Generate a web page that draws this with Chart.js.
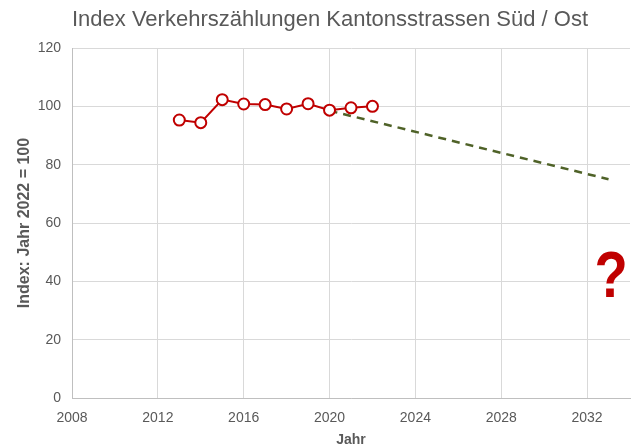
<!DOCTYPE html>
<html>
<head>
<meta charset="utf-8">
<script src="https://cdn.jsdelivr.net/npm/chart.js@4"></script>
<style>
  html, body { margin: 0; padding: 0; background: #fff; }
  #wrap { width: 640px; height: 448px; }
</style>
</head>
<body>
<div id="wrap"><canvas id="chart" width="640" height="448"></canvas></div>
<script>
// measured index values, 2022 = 100
const years = [2013, 2014, 2015, 2016, 2017, 2018, 2019, 2020, 2021, 2022];
const indexValues = [95.3, 94.4, 102.3, 100.8, 100.6, 99.1, 100.9, 98.7, 99.5, 100];

// dashed trend line
const trendYears = [2020, 2033];
const trendValues = [98.5, 75];

const xTicks = [2008, 2012, 2016, 2020, 2024, 2028, 2032];
const yTicks = [0, 20, 40, 60, 80, 100, 120];

const chartTitle = "Index Verkehrszählungen Kantonsstrassen Süd / Ost";

const grey = "#595959";
const red = "#c00000";
const font = "'Liberation Sans', Arial, sans-serif";

// title (centred over the plot) and the big question mark
const extras = {
  id: "extras",
  afterDraw(chart) {
    const c = chart.ctx;
    c.save();
    c.font = "22px " + font;
    c.fillStyle = grey;
    c.textAlign = "center";
    c.textBaseline = "alphabetic";
    c.fillText(chartTitle, 330, 26);

    c.translate(611, 297);
    c.scale(0.85, 1);
    c.font = "bold 64px " + font;
    c.fillStyle = red;
    c.fillText("?", 0, 0);
    c.restore();
  }
};

const ctx = document.getElementById("chart").getContext("2d");
const chart = new Chart(ctx, {
  type: "line",
  data: {
    datasets: [
      {
        label: "Index",
        data: years.map((y, i) => ({ x: y, y: indexValues[i] })),
        borderColor: red,
        borderWidth: 2,
        pointStyle: "circle",
        pointRadius: 5.5,
        pointBorderWidth: 2,
        pointBackgroundColor: "#ffffff",
        pointBorderColor: red,
        fill: false,
      },
      {
        label: "Trend",
        data: trendYears.map((y, i) => ({ x: y, y: trendValues[i] })),
        borderColor: "#4f6228",
        borderWidth: 2.5,
        borderDash: [8, 6],
        pointRadius: 0,
        fill: false,
      },
    ],
  },
  plugins: [extras],
  options: {
    responsive: false,
    animation: false,
    layout: { padding: { left: 15, right: 10, top: 48, bottom: 0 } },
    plugins: {
      legend: { display: false },
      tooltip: { enabled: false },
      title: { display: false },
    },
    scales: {
      x: {
        type: "linear",
        min: 2008,
        max: 2034,
        afterBuildTicks: (axis) => {
          axis.ticks = xTicks.map((v) => ({ value: v }));
        },
        afterFit: (axis) => { axis.height = 50; },
        ticks: {
          color: grey,
          font: { family: font, size: 14 },
          callback: (v) => String(v),
          maxRotation: 0,
          padding: 12,
        },
        grid: { color: "#d9d9d9", lineWidth: 1, drawTicks: false },
        border: { color: "#bfbfbf" },
        title: {
          display: true,
          text: "Jahr",
          color: grey,
          font: { family: font, size: 14, weight: "bold" },
          padding: { top: 0, bottom: -1 },
        },
      },
      y: {
        min: 0,
        max: 120,
        afterBuildTicks: (axis) => {
          axis.ticks = yTicks.map((v) => ({ value: v }));
        },
        afterFit: (axis) => { axis.width = 57; },
        ticks: {
          color: grey,
          font: { family: font, size: 14 },
          padding: 11,
        },
        grid: { color: "#d9d9d9", lineWidth: 1, drawTicks: false },
        border: { color: "#bfbfbf" },
        title: {
          display: true,
          text: "Index: Jahr 2022 = 100",
          color: grey,
          font: { family: font, size: 16, weight: "bold" },
          padding: { top: 0, bottom: 4 },
        },
      },
    },
  },
});
</script>
</body>
</html>
